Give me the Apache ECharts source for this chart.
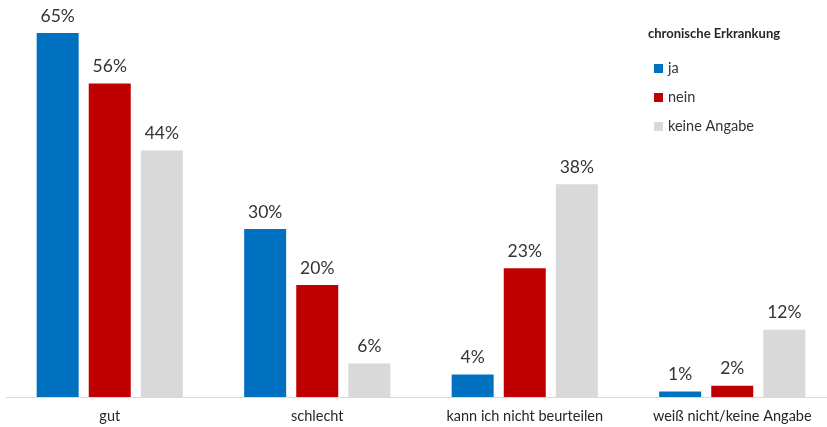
<!DOCTYPE html>
<html>
<head>
<meta charset="utf-8">
<script src="https://cdn.jsdelivr.net/npm/echarts@6/dist/echarts.min.js"></script>
<style>html,body{margin:0;padding:0;background:#fff}#c{width:827px;height:427px}</style>
</head>
<body>
<div id="c"></div>
<script>
const categories = ['gut', 'schlecht', 'kann ich nicht beurteilen', 'weiß nicht/keine Angabe'];
const seriesNames = ['ja', 'nein', 'keine Angabe'];
const ja = [65, 30, 4, 1];
const nein = [56, 20, 23, 2];
const keineAngabe = [44, 6, 38, 12];
const legendTitle = 'chronische Erkrankung';

const colors = ['#0070C0', '#C00000', '#D9D9D9'];
const values = [ja, nein, keineAngabe];
const font = 'Lato, "Open Sans", sans-serif';

const chart = echarts.init(document.getElementById('c'), null, {renderer: 'canvas'});
chart.setOption({
  animation: false,
  textStyle: {fontFamily: font},
  title: {
    text: legendTitle, left: 643, top: 22,
    textStyle: {fontSize: 13, fontWeight: 'bold', color: '#262626', fontFamily: font}
  },
  legend: {
    orient: 'vertical', left: 649, top: 56,
    itemWidth: 9, itemHeight: 9, itemGap: 14, icon: 'rect',
    textStyle: {fontSize: 14.5, color: '#333', lineHeight: 14, fontFamily: font},
    data: seriesNames
  },
  grid: {left: 6, width: 830, top: 5, bottom: 30, containLabel: false, outerBoundsMode: 'none'},
  xAxis: {
    type: 'category', data: categories,
    axisLine: {lineStyle: {color: '#D9D9D9', width: 1}},
    axisTick: {show: false},
    axisLabel: {fontSize: 14.5, color: '#262626', margin: 12, fontFamily: font, interval: 0}
  },
  yAxis: {type: 'value', min: 0, max: 70, show: false, splitLine: {show: false}},
  series: seriesNames.map((n, i) => ({
    name: n, type: 'bar', data: values[i], barWidth: 42, barGap: '24%',
    itemStyle: {color: colors[i]},
    label: {show: true, position: 'top', distance: 8, formatter: p => p.value + '%',
      fontSize: 17.5, color: '#333', fontFamily: font}
  }))
});
</script>
</body>
</html>
